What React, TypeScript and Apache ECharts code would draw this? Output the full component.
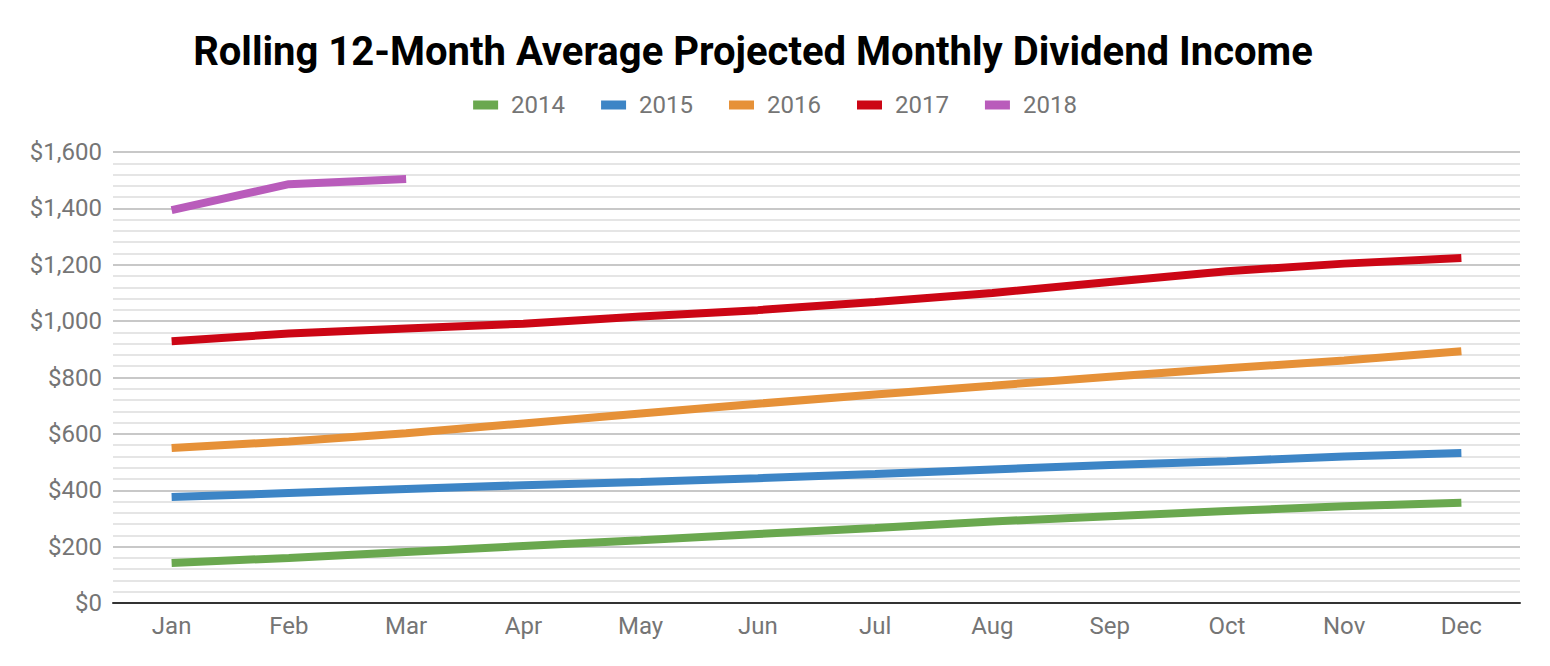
import React, { useEffect, useRef } from 'react'
import * as echarts from 'echarts'

/*==================================================================
    DATA
==================================================================*/
const MONTHS = ['Jan', 'Feb', 'Mar', 'Apr', 'May', 'Jun', 'Jul', 'Aug', 'Sep', 'Oct', 'Nov', 'Dec']

const Y2014 = [142, 160, 181, 202, 223, 245, 266, 289, 308, 326, 343, 356]
const Y2015 = [376, 390, 404, 418, 429, 443, 458, 474, 490, 503, 520, 532]
const Y2016 = [550, 573, 602, 637, 672, 707, 740, 771, 803, 833, 860, 893]
const Y2017 = [929, 956, 974, 991, 1016, 1039, 1068, 1100, 1139, 1177, 1204, 1224]
const Y2018 = [1394, 1486, 1504]

const SERIES = [
  { name: '2014', data: Y2014, color: '#6aa84f' },
  { name: '2015', data: Y2015, color: '#3d85c6' },
  { name: '2016', data: Y2016, color: '#e69138' },
  { name: '2017', data: Y2017, color: '#cc0615' },
  { name: '2018', data: Y2018, color: '#b95cbb' },
]

const FONT = 'Roboto, "Noto Sans", sans-serif'

/*==================================================================
    APP
==================================================================*/
export default function App() {
  const ref = useRef<HTMLDivElement>(null)

  useEffect(() => {
    if (!ref.current) return
    const chart = echarts.init(ref.current, undefined, { renderer: 'svg' })
    chart.setOption({
      animation: false,
      backgroundColor: '#fff',
      title: {
        text: 'Rolling 12-Month Average Projected Monthly Dividend Income',
        left: 748, top: 26, textAlign: 'center',
        textStyle: { fontFamily: FONT, fontSize: 40, fontWeight: 'bold', color: '#000' },
      },
      legend: {
        top: 88, left: 'center',
        itemWidth: 25, itemHeight: 9, itemGap: 36,
        icon: 'rect',
        textStyle: { fontFamily: FONT, fontSize: 24, color: '#757575', padding: [0, 0, 0, 8] },
        data: SERIES.map((s) => s.name),
      },
      grid: { left: 113, right: 30, top: 152, bottom: 63 },
      xAxis: {
        type: 'category', data: MONTHS, boundaryGap: true,
        axisLine: { lineStyle: { color: '#333', width: 2 } },
        axisTick: { show: false },
        axisLabel: { fontFamily: FONT, fontSize: 24, color: '#757575', margin: 11 },
      },
      yAxis: {
        type: 'value', min: 0, max: 1600, interval: 200,
        axisLine: { show: false }, axisTick: { show: false },
        axisLabel: {
          fontFamily: FONT, fontSize: 24, color: '#757575', margin: 11,
          formatter: (v: number) => '$' + v.toLocaleString('en-US'),
        },
        splitLine: { lineStyle: { color: '#c8c8c8', width: 2 } },
        minorTick: { show: false, splitNumber: 5 },
        minorSplitLine: { show: true, lineStyle: { color: '#e5e5e5', width: 2 } },
      },
      series: SERIES.map((s) => ({
        name: s.name, type: 'line', data: s.data,
        showSymbol: false, symbol: 'none',
        lineStyle: { color: s.color, width: 8, cap: 'butt' },
        itemStyle: { color: s.color },
      })),
    })
    return () => chart.dispose()
  }, [])

  return <div ref={ref} style={{ width: 1550, height: 666, margin: -8 }} />
}
